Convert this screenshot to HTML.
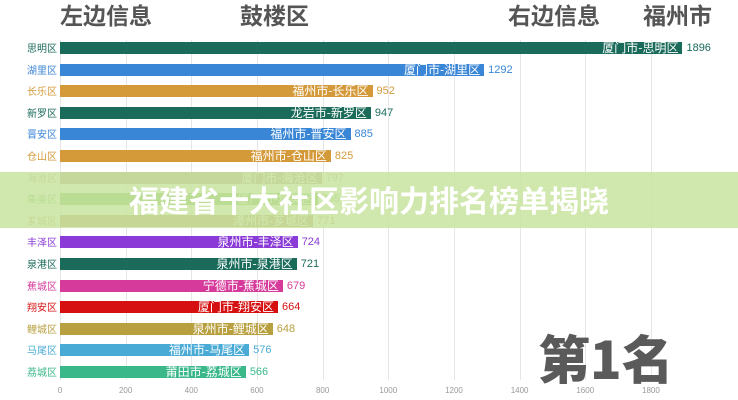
<!DOCTYPE html>
<html><head><meta charset="utf-8"><style>
body{margin:0;width:738px;height:400px;background:#fff;overflow:hidden;position:relative;font-family:"Liberation Sans","Noto Sans CJK SC",sans-serif}
.h{position:absolute;top:-3px;font-size:23px;font-weight:bold;color:#555;font-family:"Noto Sans CJK SC",sans-serif}
.g{position:absolute;top:40px;height:340px;width:1px;background:#e6e6e6}
.t{position:absolute;top:386px;font-size:8px;color:#999;width:40px;margin-left:-20px;text-align:center}
.l{position:absolute;left:0;width:57px;text-align:right;font-size:10px;font-family:"Noto Sans CJK SC",sans-serif;line-height:14px}
.b{position:absolute;left:60px;height:12px;color:#fff;font-size:12px;line-height:12px;text-align:right;font-family:"Noto Sans CJK SC",sans-serif;box-sizing:border-box;padding-right:4px;white-space:nowrap;overflow:hidden}
.v{position:absolute;font-size:11px;line-height:14px}
</style></head><body>
<div class="h" style="left:60px">左边信息</div>
<div class="h" style="left:240px">鼓楼区</div>
<div class="h" style="left:508px">右边信息</div>
<div class="h" style="left:643px">福州市</div>
<div id="c"></div>
<div style="position:absolute;left:0;top:172px;width:738px;height:56px;background:rgba(200,228,160,0.85)"></div>
<div style="position:absolute;left:0;top:179px;width:738px;text-align:center;font-size:30px;font-weight:bold;color:#fff;line-height:40px;font-family:'Noto Sans CJK SC',sans-serif">福建省十大社区影响力排名榜单揭晓</div>
<div style="position:absolute;left:538px;top:322px;font-size:52px;font-weight:900;color:#5a5a5a;line-height:70px;font-family:'Noto Sans CJK SC',sans-serif">第1名</div>
<script>
var d=[["思明区","厦门市-思明区",1896,"#1a6b5a"],["湖里区","厦门市-湖里区",1292,"#3a86d6"],["长乐区","福州市-长乐区",952,"#d49a3a"],["新罗区","龙岩市-新罗区",947,"#1a6b5a"],["晋安区","福州市-晋安区",885,"#3a86d6"],["仓山区","福州市-仓山区",825,"#d49a3a"],["海沧区","厦门市-海沧区",797,"#b88e80"],["集美区","厦门市-集美区",785,"#6ab04c"],["芗城区","漳州市-芗城区",771,"#b88a5a"],["丰泽区","泉州市-丰泽区",724,"#8a3ad6"],["泉港区","泉州市-泉港区",721,"#1a6b5a"],["蕉城区","宁德市-蕉城区",679,"#d63a9a"],["翔安区","厦门市-翔安区",664,"#d61010"],["鲤城区","泉州市-鲤城区",648,"#b8a040"],["马尾区","福州市-马尾区",576,"#4aaad6"],["荔城区","莆田市-荔城区",566,"#3ab88a"]];
var k=0.3283,h="";
for(var i=0;i<=9;i++){var x=60+i*200*k;h+='<div class="g" style="left:'+x+'px"></div><div class="t" style="left:'+x+'px">'+i*200+'</div>';}
d.forEach(function(r,i){var y=48+i*21.6,w=r[2]*k;
h+='<div class="l" style="top:'+(y-7)+'px;color:'+r[3]+'">'+r[0]+'</div>';
h+='<div class="b" style="top:'+(y-6)+'px;width:'+w+'px;background:'+r[3]+'">'+r[1]+'</div>';
h+='<div class="v" style="top:'+(y-7)+'px;left:'+(64+w)+'px;color:'+r[3]+'">'+r[2]+'</div>';});
document.getElementById("c").innerHTML=h;
</script>
</body></html>
